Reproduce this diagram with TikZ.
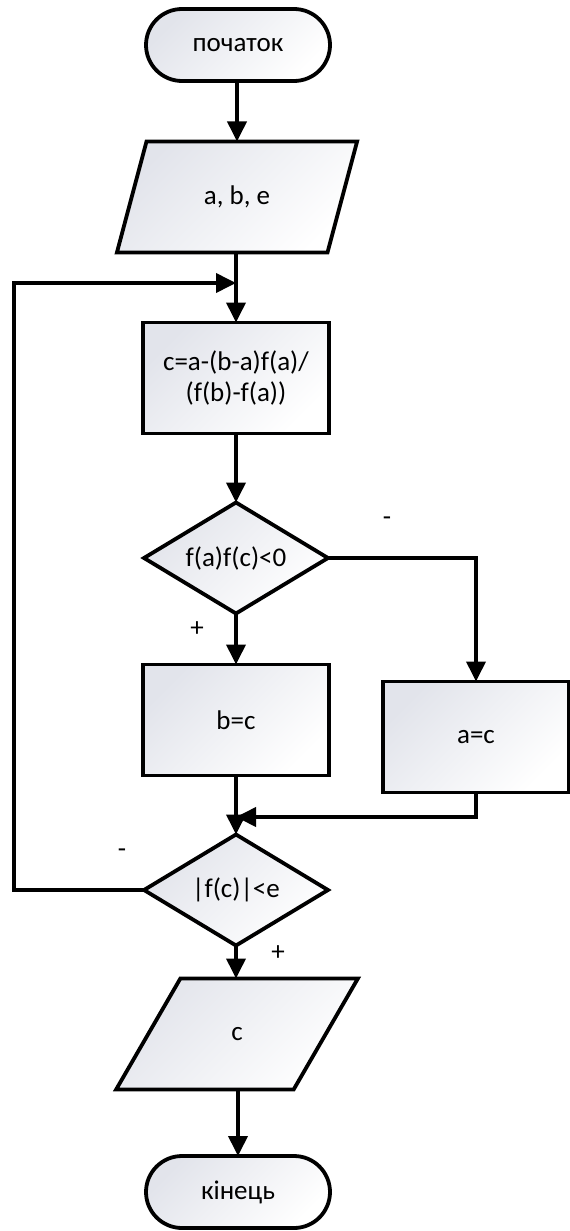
\documentclass[tikz,border=0pt]{standalone}
\usepackage{fontspec}
\setmainfont{Carlito}
\usetikzlibrary{arrows.meta,shapes.geometric,shapes.misc}
\definecolor{shadecol}{RGB}{226,228,235}
\begin{document}
\begin{tikzpicture}[x=1pt,y=-1pt,
  font=\fontsize{27}{31}\selectfont,
  every node/.style={inner sep=0pt, outer sep=0pt},
  blk/.style={draw=black, line width=3.8pt, top color=shadecol, bottom color=white, shading angle=45, align=center},
  term/.style={blk, rounded rectangle, minimum width=184pt, minimum height=72pt},
  io/.style={blk, trapezium, trapezium left angle=64, trapezium right angle=116, trapezium stretches=true, minimum width=242pt, minimum height=111pt},
  proc/.style={blk, rectangle, minimum width=186pt, minimum height=111pt},
  dec/.style={blk, diamond, aspect=1.6, minimum width=184pt, minimum height=111pt},
  flow/.style={line width=3.8pt, -{Triangle[length=20pt,width=19pt]}},
  lbl/.style={font=\fontsize{27}{31}\selectfont}
]
\useasboundingbox (0,0) rectangle (570,1231);

% blocks of the algorithm
\node[term] (start) at (238,45) {початок};
\node[io]   (in1)   at (237,197) {a, b, e};
\node[proc] (calc)  at (236,378) {c=a-(b-a)f(a)/\\(f(b)-f(a))};
\node[dec]  (d1)    at (236,558) {f(a)f(c)<0};
\node[proc] (pb)    at (236,720) {b=c};
\node[proc] (pa)    at (476,737) {a=c};
\node[dec]  (d2)    at (236,890) {|f(c)|<e};
\node[io]   (out)   at (237,1034) {c};
\node[term] (fin)   at (238,1192) {кінець};

% junction points of the loop
\coordinate (j1) at (236,283);
\coordinate (j2) at (236,817);
\coordinate (lx) at (14,0);

% connectors
\draw[flow] (start.south -| in1) -- (in1.north);
\draw[flow] (in1.south -| calc) -- (calc.north);
\draw[flow] (d2.west) -- (d2.west -| lx) |- (j1);
\draw[flow] (calc) -- (d1);
\draw[flow] (d1) -- (pb);
\draw[flow] (d1.east) -| (pa.north);
\draw[flow] (pb) -- (d2);
\draw[flow] (pa.south) |- (j2);
\draw[flow] (d2) -- (out.north -| d2);
\draw[flow] (out.south -| fin) -- (fin.north);

% branch labels
\node[lbl] (m1) at (387,521) {-};
\node[lbl] (p1) at (197,629) {+};
\node[lbl] (m2) at (122,853) {-};
\node[lbl] (p2) at (278,953) {+};
\end{tikzpicture}
\end{document}
